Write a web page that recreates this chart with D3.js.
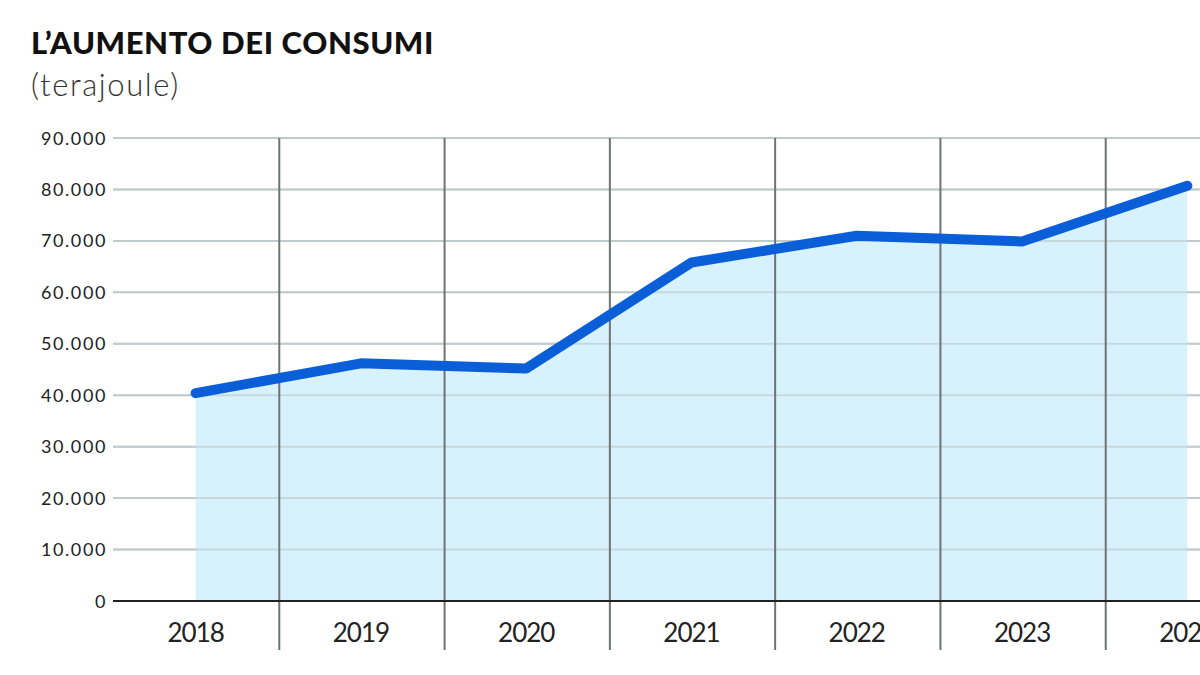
<html>
<head>
<script src="https://cdnjs.cloudflare.com/ajax/libs/d3/7.8.5/d3.min.js"></script>
<style>
body {
   margin: 0;
   background: #fff;
}
text {
   font-family: Lato, "Open Sans", sans-serif;
}
</style>
</head>
<body>
<svg id="canvas" width="1200" height="675"></svg>
<script>

var years = ['2018', '2019', '2020', '2021', '2022', '2023', '2024'];
var consumi = [40400, 46200, 45200, 65800, 71000, 69900, 80700];
var yTicks = [0, 10000, 20000, 30000, 40000, 50000, 60000, 70000, 80000, 90000];

var svg = d3.select('#canvas');

// title
svg.append('text')
  .attr('x', 31)
  .attr('y', 54)
  .style('font-size', '31px')
  .style('font-weight', 900)
  .style('letter-spacing', '0.6px')
  .style('fill', '#111')
  .text('L\u2019AUMENTO DEI CONSUMI');

svg.append('text')
  .attr('x', 31)
  .attr('y', 96)
  .style('font-size', '31px')
  .style('font-weight', 300)
  .style('letter-spacing', '1.6px')
  .style('fill', '#333')
  .text('(terajoule)');

var x = d3.scaleBand().domain(years).range([113, 1270]);
var y = d3.scaleLinear().domain([0, 90000]).range([601, 138]);
var cx = function(d, i) { return x(years[i]) + x.bandwidth() / 2; };

var fmt = function(v) { return d3.format(',')(v).replace(/,/g, '.'); };

// horizontal grid
svg.selectAll('.grid')
  .data(yTicks.slice(1))
  .enter()
  .append('line')
  .attr('class', 'grid')
  .attr('x1', 113)
  .attr('x2', 1200)
  .attr('y1', function(d) { return y(d); })
  .attr('y2', function(d) { return y(d); })
  .style('stroke', '#c6cfd0')
  .style('stroke-width', 2);

// area under the line
var area = d3.area()
  .x(cx)
  .y0(y(0))
  .y1(function(d) { return y(d); });

svg.append('path')
  .datum(consumi)
  .attr('d', area)
  .style('fill', '#d7f2fd');

// grid again, faint, over the fill
svg.selectAll('.grid2')
  .data(yTicks.slice(1))
  .enter()
  .append('line')
  .attr('x1', 113)
  .attr('x2', 1200)
  .attr('y1', function(d) { return y(d); })
  .attr('y2', function(d) { return y(d); })
  .style('stroke', '#b9c6c9')
  .style('stroke-opacity', 0.6)
  .style('stroke-width', 2);

// vertical separators
svg.selectAll('.sep')
  .data(years.slice(1))
  .enter()
  .append('line')
  .attr('x1', function(d) { return x(d) + 1; })
  .attr('x2', function(d) { return x(d) + 1; })
  .attr('y1', 138)
  .attr('y2', 650)
  .style('stroke', '#6f7373')
  .style('stroke-width', 2);

// baseline
svg.append('line')
  .attr('x1', 113)
  .attr('x2', 1200)
  .attr('y1', y(0))
  .attr('y2', y(0))
  .style('stroke', '#222')
  .style('stroke-width', 2);

// y labels
svg.selectAll('.ylab')
  .data(yTicks)
  .enter()
  .append('text')
  .attr('x', 107)
  .attr('y', function(d) { return y(d) + 6.5; })
  .attr('text-anchor', 'end')
  .style('font-size', '18px')
  .style('letter-spacing', '1.6px')
  .style('fill', '#222')
  .text(fmt);

// x labels
svg.selectAll('.xlab')
  .data(years)
  .enter()
  .append('text')
  .attr('x', function(d) { return x(d) + x.bandwidth() / 2; })
  .attr('y', 642)
  .attr('text-anchor', 'middle')
  .style('font-size', '26px')
  .style('letter-spacing', '-1px')
  .style('fill', '#222')
  .text(function(d) { return d; });

// the line
var line = d3.line()
  .x(cx)
  .y(function(d) { return y(d); });

svg.append('path')
  .datum(consumi)
  .attr('d', line)
  .style('fill', 'none')
  .style('stroke', '#0a5fd8')
  .style('stroke-width', 10)
  .style('stroke-linecap', 'round')
  .style('stroke-linejoin', 'round');

</script>
</body>
</html>
